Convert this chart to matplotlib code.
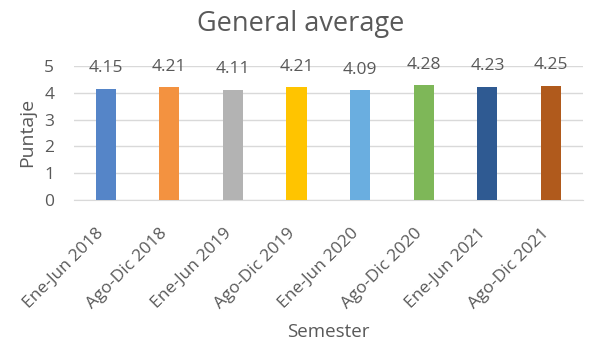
import matplotlib.pyplot as plt
import matplotlib.transforms as mtransforms

# --- Data ---
semesters = ["Ene-Jun 2018", "Ago-Dic 2018", "Ene-Jun 2019", "Ago-Dic 2019",
             "Ene-Jun 2020", "Ago-Dic 2020", "Ene-Jun 2021", "Ago-Dic 2021"]
scores = [4.15, 4.21, 4.11, 4.21, 4.09, 4.28, 4.23, 4.25]
colors = ["#5585C8", "#F39240", "#B3B3B3", "#FFC400",
          "#6AAEE0", "#7EB758", "#2F5A92", "#B05A1C"]

text_col = "#595959"
plt.rcParams['font.family'] = ['Open Sans', 'DejaVu Sans']

fig = plt.figure(figsize=(5.9, 3.43), dpi=100)
ax = fig.add_axes([0.125, 0.417, 0.863, 0.391])

x = range(len(semesters))
bars = ax.bar(x, scores, width=0.315, color=colors, zorder=3)

for b, v in zip(bars, scores):
    ax.annotate(f"{v:.2f}", (b.get_x() + b.get_width() / 2, v),
                xytext=(0, 9), textcoords="offset points",
                ha="center", va="bottom", fontsize=12.5, color=text_col)

ax.set_xlim(-0.5, len(semesters) - 0.5)
ax.set_ylim(0, 5)
ax.set_yticks(range(6))
ax.yaxis.grid(True, color="#D9D9D9", linewidth=1, zorder=0)
ax.set_xticks(list(x))
ax.set_xticklabels(semesters, rotation=45, ha="right", rotation_mode="anchor")
ax.tick_params(axis="both", length=0, labelsize=12.5, labelcolor=text_col)
ax.tick_params(axis="x", pad=18)
ax.tick_params(axis="y", pad=14)
# nudge the slanted labels a bit left, like the original
shift = mtransforms.ScaledTranslation(-7 / 72, 0, fig.dpi_scale_trans)
for lbl in ax.get_xticklabels():
    lbl.set_transform(lbl.get_transform() + shift)
for s in ["top", "right", "left"]:
    ax.spines[s].set_visible(False)
ax.spines["bottom"].set_color("#D9D9D9")

ax.set_ylabel("Puntaje", fontsize=14, color=text_col, labelpad=6)
ax.set_xlabel("Semester", fontsize=13.5, color=text_col, labelpad=8)
fig.suptitle("General average", fontsize=19.5, color=text_col, x=0.51, y=0.972)

fig.savefig("out.png", dpi=100)
